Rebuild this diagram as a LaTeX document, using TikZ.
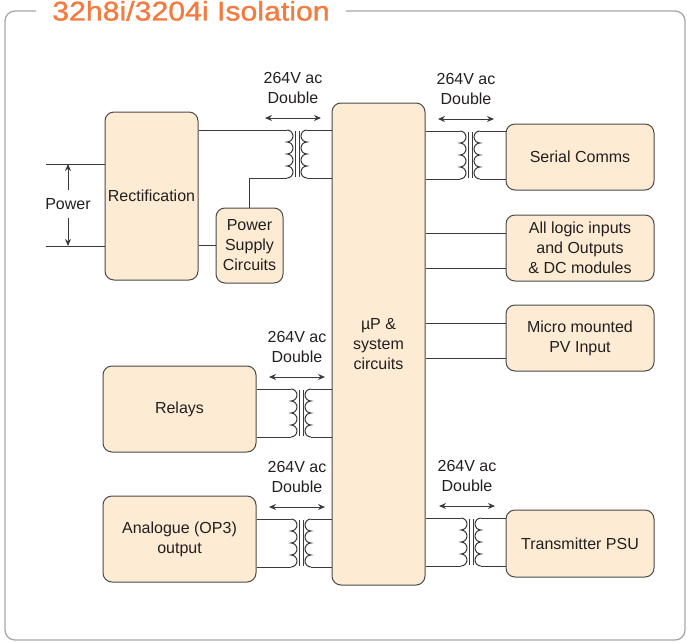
\documentclass[tikz,border=0pt]{standalone}
\usepackage{fontspec}
\setmainfont{Liberation Sans}
\newfontfamily\titlefont{Liberation Sans}[FakeStretch=1.12, FakeBold=1.2]
\usetikzlibrary{arrows.meta}
\definecolor{boxfill}{HTML}{FDEBD3}
\definecolor{boxline}{HTML}{4A4A4A}
\definecolor{wirec}{HTML}{3A3A3A}
\definecolor{framec}{HTML}{A5A7AA}
\definecolor{titlec}{HTML}{F47B3F}
\definecolor{textc}{HTML}{231F20}
\tikzstyle{block}=[draw=boxline, fill=boxfill, line width=1pt, rounded corners=9pt, align=center, inner sep=0pt, text=textc, font=\fontsize{16}{20}\selectfont]
\tikzstyle{lbl}=[align=center, inner sep=1pt, text=textc, font=\fontsize{16}{20}\selectfont]
\tikzstyle{wire}=[draw=wirec, line width=1pt]
\tikzstyle{dim}=[wire, {Stealth[length=7pt,width=6pt]}-{Stealth[length=7pt,width=6pt]}]
\tikzstyle{dimto}=[wire, -{Stealth[length=7pt,width=6pt]}]
\tikzset{xfmr/.pic={
	\coordinate (-lt) at (-10,0);
	\coordinate (-lb) at (-10,48);
	\coordinate (-rt) at (10,0);
	\coordinate (-rb) at (10,48);
	\draw[wire] (-lt) arc[start angle=-90,end angle=90,radius=6] arc[start angle=-90,end angle=90,radius=6] arc[start angle=-90,end angle=90,radius=6] arc[start angle=-90,end angle=90,radius=6];
	\draw[wire] (-rt) arc[start angle=-90,end angle=-270,radius=6] arc[start angle=-90,end angle=-270,radius=6] arc[start angle=-90,end angle=-270,radius=6] arc[start angle=-90,end angle=-270,radius=6];
	\draw[wire] (-2,1) -- (-2,47);
	\draw[wire] (2,1) -- (2,47);
	\node[lbl] (-v) at (-4,-42) {264V ac\\Double};
	\coordinate (-al) at (-32,-12);
	\coordinate (-ar) at (24,-12);
	\draw[dim] (-al) -- (-ar);
}}

\begin{document}
\begin{tikzpicture}[x=1pt, y=-1pt]
	\useasboundingbox (0,0) rectangle (687,642);
	\node[text=titlec, font=\titlefont\fontsize{27}{32}\selectfont, inner xsep=16pt, anchor=base] (title) at (191,20.5) {32h8i/3204i Isolation};
	\draw[framec, line width=1.3pt, rounded corners=10pt] (title.west |- 0,11) -- (5,11) -- (5,640) -- (685,640) -- (685,11) -- (title.east |- 0,11);

	\node[block, minimum width=93pt, minimum height=168pt] (rect) at (151.5,196) {Rectification};
	\node[block, minimum width=67pt, minimum height=75pt] (psu) at (249.5,245.5) {Power\\Supply\\Circuits};
	\node[block, minimum width=93pt, minimum height=482pt] (up) at (378.5,344) {µP \&\\system\\circuits};
	\node[block, minimum width=148pt, minimum height=66pt] (serial) at (580,157) {Serial Comms};
	\node[block, minimum width=148pt, minimum height=66pt] (logic) at (580,248) {All logic inputs\\and Outputs\\\& DC modules};
	\node[block, minimum width=148pt, minimum height=66pt] (micro) at (580,338) {Micro mounted\\PV Input};
	\node[block, minimum width=153pt, minimum height=86pt] (relays) at (179.5,409) {Relays};
	\node[block, minimum width=153pt, minimum height=86pt] (analog) at (179.5,539) {Analogue (OP3)\\output};
	\node[block, minimum width=148pt, minimum height=67pt] (tx) at (580,543.5) {Transmitter PSU};

	\pic (t1) at (297,130) {xfmr};
	\pic (t2) at (470,131) {xfmr};
	\pic (t3) at (301,389) {xfmr};
	\pic (t4) at (301,519) {xfmr};
	\pic (t5) at (471,518) {xfmr};

	\coordinate (pw1) at (46,164);
	\coordinate (pw2) at (46,246);
	\node[lbl, inner sep=8pt] (pwr) at (68,204) {Power};
	\draw[wire] (pw1) -- (rect.west |- pw1);
	\draw[wire] (pw2) -- (rect.west |- pw2);
	\draw[dimto] (pwr.north) -- (pwr.north |- pw1);
	\draw[dimto] (pwr.south) -- (pwr.south |- pw2);

	\draw[wire] (rect.east |- t1-lt) -- (t1-lt);
	\draw[wire] (t1-lb) -| (psu.north);
	\draw[wire] (rect.east |- psu.west) -- (psu.west);
	\draw[wire] (t1-rt) -- (up.west |- t1-rt);
	\draw[wire] (t1-rb) -- (up.west |- t1-rb);

	\draw[wire] (up.east |- t2-lt) -- (t2-lt);
	\draw[wire] (up.east |- t2-lb) -- (t2-lb);
	\draw[wire] (t2-rt) -- (serial.west |- t2-rt);
	\draw[wire] (t2-rb) -- (serial.west |- t2-rb);

	\coordinate (lg1) at ([yshift=15pt]logic.west);
	\coordinate (lg2) at ([yshift=-20pt]logic.west);
	\coordinate (mc1) at ([yshift=15pt]micro.west);
	\coordinate (mc2) at ([yshift=-20pt]micro.west);
	\draw[wire] (up.east |- lg1) -- (lg1);
	\draw[wire] (up.east |- lg2) -- (lg2);
	\draw[wire] (up.east |- mc1) -- (mc1);
	\draw[wire] (up.east |- mc2) -- (mc2);

	\draw[wire] (relays.east |- t3-lt) -- (t3-lt);
	\draw[wire] (relays.east |- t3-lb) -- (t3-lb);
	\draw[wire] (t3-rt) -- (up.west |- t3-rt);
	\draw[wire] (t3-rb) -- (up.west |- t3-rb);

	\draw[wire] (analog.east |- t4-lt) -- (t4-lt);
	\draw[wire] (analog.east |- t4-lb) -- (t4-lb);
	\draw[wire] (t4-rt) -- (up.west |- t4-rt);
	\draw[wire] (t4-rb) -- (up.west |- t4-rb);

	\draw[wire] (up.east |- t5-lt) -- (t5-lt);
	\draw[wire] (up.east |- t5-lb) -- (t5-lb);
	\draw[wire] (t5-rt) -- (tx.west |- t5-rt);
	\draw[wire] (t5-rb) -- (tx.west |- t5-rb);
\end{tikzpicture}
\end{document}
